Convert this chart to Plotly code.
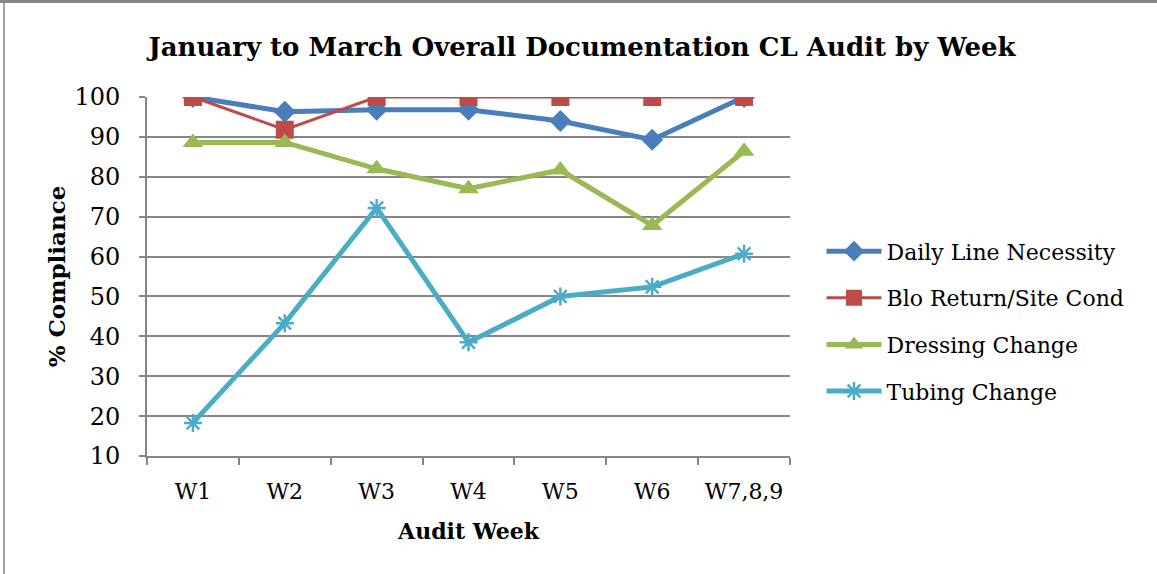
import plotly.graph_objects as go

weeks = ["W1", "W2", "W3", "W4", "W5", "W6", "W7,8,9"]
daily_line_necessity = [100, 96.3, 96.8, 96.8, 94.0, 89.3, 100]
blo_return_site_cond = [100, 91.8, 100, 100, 100, 100, 100]
dressing_change = [88.6, 88.6, 82.0, 77.0, 81.7, 67.8, 86.4]
tubing_change = [18.3, 43.3, 72.2, 38.5, 50.0, 52.4, 60.7]
y_ticks = [10, 20, 30, 40, 50, 60, 70, 80, 90, 100]

FONT = "DejaVu Serif"

series = [
    ("Daily Line Necessity", daily_line_necessity, "#4A7EBB", 5, dict(symbol="diamond", size=17)),
    ("Blo Return/Site Cond", blo_return_site_cond, "#BE4B48", 3, dict(symbol="square", size=18)),
    ("Dressing Change", dressing_change, "#98B954", 5, dict(symbol="triangle-up", size=18)),
    ("Tubing Change", tubing_change, "#4BACC6", 5, dict(symbol="asterisk-open", size=15, line=dict(width=2.5, color="#4BACC6"))),
]

fig = go.Figure()
for i, (name, vals, color, lw, mk) in enumerate(series):
    m = dict(color=color, **mk)
    fig.add_trace(go.Scatter(
        x=weeks, y=vals, name=name, mode="lines+markers",
        line=dict(color=color, width=lw), marker=m, legendgroup=f"g{i}",
    ))

fig.update_layout(
    width=1157, height=574,
    margin=dict(l=147, r=367, t=97, b=118),
    paper_bgcolor="white", plot_bgcolor="white",
    font=dict(family=FONT, color="#000000", size=22),
    title=dict(text="<b>January to March Overall Documentation CL Audit by Week</b>",
               x=0.503, xanchor="center", xref="container", y=1 - 47 / 574, yanchor="middle",
               font=dict(family=FONT, size=26, color="#000000")),
    showlegend=True,
    legend=dict(x=1.049, xanchor="left", y=0.375, yanchor="middle",
                font=dict(family=FONT, size=22, color="#000000"),
                tracegroupgap=15, itemwidth=55, bgcolor="rgba(0,0,0,0)"),
    xaxis=dict(type="category", showgrid=False, showline=True, linecolor="#868686", linewidth=2,
               ticks="outside", tickson="boundaries", ticklen=7, tickwidth=2, tickcolor="#868686",
               tickfont=dict(family=FONT, size=22), tickangle=0, automargin=False,
               range=[-0.5, 6.5], ticklabelstandoff=15,
               title=dict(text="<b>Audit Week</b>", font=dict(family=FONT, size=22), standoff=20)),
    yaxis=dict(range=[10, 100], tickvals=y_ticks, showgrid=True, gridcolor="#868686", gridwidth=2,
               showline=True, linecolor="#868686", linewidth=2, zeroline=False,
               ticks="outside", ticklen=6, tickwidth=2, tickcolor="#868686", automargin=False,
               tickfont=dict(family=FONT, size=24), ticklabelstandoff=14,
               title=dict(text="<b>% Compliance</b>", font=dict(family=FONT, size=23), standoff=2)),
)

# outer chart border (top and left edges visible)
fig.add_shape(type="line", xref="paper", yref="paper", x0=-147/643, x1=(1157-147)/643,
              y0=1 + 95.5/359, y1=1 + 95.5/359, line=dict(color="#868686", width=3))
fig.add_shape(type="line", xref="paper", yref="paper", x0=-143/643, x1=-143/643,
              y0=-118/359, y1=1 + 96/359, line=dict(color="#868686", width=1.5))

fig.write_html("out.html", config={"displayModeBar": False},
               post_script="document.body.style.margin='0px';")
